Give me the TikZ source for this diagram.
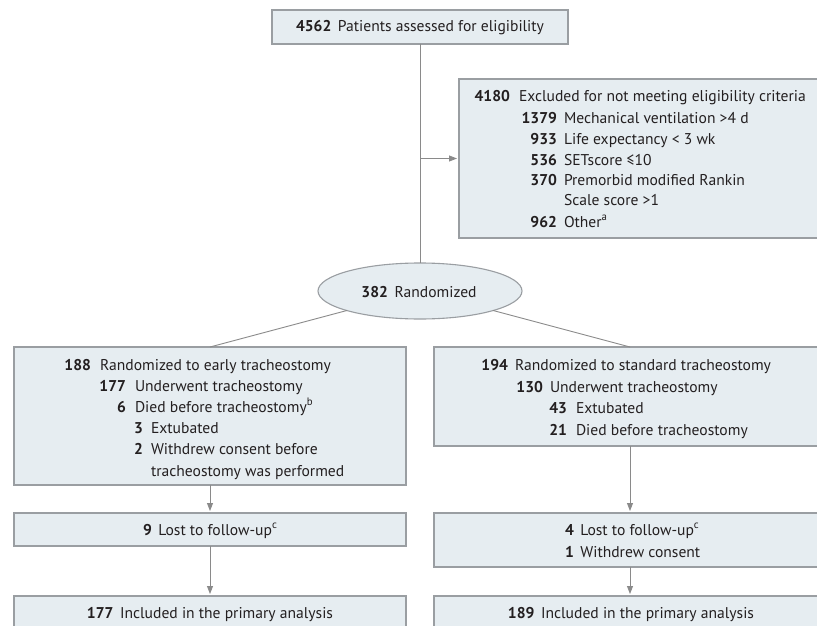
\documentclass[tikz,border=0pt]{standalone}
\usepackage{fontspec}
\setmainfont{PT Sans}
\usetikzlibrary{arrows.meta,shapes.geometric}
\definecolor{boxfill}{HTML}{E6EDF1}
\definecolor{boxline}{HTML}{9A9EA2}
\definecolor{connc}{HTML}{8A8A8A}
\definecolor{ink}{HTML}{231F20}
\newcommand\gp{\hspace{0.42em}}
\newcommand\supr[1]{\raisebox{0.42em}{\fontsize{10.8}{12}\selectfont #1}}
\newcommand\flrow[6]{%
  \node[numt, anchor=base east] (#1n) at (#2,#4+5) {#5};
  \node[bodyt, anchor=base west] (#1t) at (#3,#4+5) {#6};}
\tikzset{
  txt/.style={inner sep=0pt, outer sep=0pt, text=ink, font=\fontsize{15.6}{17}\selectfont},
  numt/.style={txt, font=\fontsize{15.6}{17}\selectfont\bfseries},
  bodyt/.style={txt},
  box/.style={rectangle, draw=boxline, line width=1.1pt, fill=boxfill, inner sep=0pt, outer sep=0pt},
  ellbox/.style={ellipse, draw=boxline, line width=1.1pt, fill=boxfill, inner sep=0pt, outer sep=0pt},
  conn/.style={draw=connc, line width=0.9pt},
  arr/.style={conn, -{Triangle[length=8pt,width=6pt]}, shorten >=2pt}
}
\begin{document}
\begin{tikzpicture}[x=1pt,y=-1pt]
\useasboundingbox (0,0) rectangle (817,626);
\fill[white] (0,0) rectangle (817,626);
\clip (0,0) rectangle (817,626);

% boxes
\node[box, minimum width=296, minimum height=34] (assess) at (420,27) {};
\node[box, minimum width=392, minimum height=159] (excl) at (655,158.5) {};
\node[ellbox, minimum width=204, minimum height=56] (ell) at (420,291) {};
\node[box, minimum width=392, minimum height=138] (lbox) at (210,416) {};
\node[box, minimum width=392, minimum height=99] (rbox) at (630,396.5) {};
\node[box, minimum width=392, minimum height=33] (llost) at (210,529.5) {};
\node[box, minimum width=392, minimum height=54] (rlost) at (630,540) {};
\node[box, minimum width=392, minimum height=44] (lincl) at (210,618) {};
\node[box, minimum width=392, minimum height=44] (rincl) at (630,618) {};

% connectors
\draw[conn] (assess.south) -- (ell.north);
\coordinate (br) at (assess.south |- excl.west);
\draw[arr] (br) -- (excl.west);
\draw[conn] (ell) -- (lbox.north);
\draw[conn] (ell) -- (rbox.north);
\draw[arr] (lbox.south) -- (llost.north);
\draw[arr] (rbox.south) -- (rlost.north);
\draw[arr] (llost.south) -- (lincl.north);
\draw[arr] (rlost.south) -- (rincl.north);

% texts
\node[txt, anchor=base] (assesst) at (420,32) {\textbf{4562}\gp Patients assessed for eligibility};

\flrow{ea}{510}{519}{97}{4180}{Excluded for not meeting eligibility criteria}
\flrow{eb}{557}{564}{118}{1379}{Mechanical ventilation >4 d}
\flrow{ec}{557}{564}{139}{933}{Life expectancy < 3 wk}
\flrow{ed}{557}{564}{160}{536}{SETscore ≤10}
\flrow{ee}{557}{564}{180}{370}{Premorbid modified Rankin}
\node[bodyt, anchor=base west] (eft) at (564,205) {Scale score >1};
\flrow{eg}{557}{564}{222}{962}{Other\supr{a}}

\node[txt, anchor=base] (ellt) at (419,297) {\textbf{382}\gp Randomized};

\flrow{la}{91}{100}{365}{188}{Randomized to early tracheostomy}
\flrow{lb}{126}{135}{386.2}{177}{Underwent tracheostomy}
\flrow{lc}{126}{135}{407.4}{6}{Died before tracheostomy\supr{b}}
\flrow{ld}{143}{151}{428.6}{3}{Extubated}
\flrow{le}{143}{151}{449.8}{2}{Withdrew consent before}
\node[bodyt, anchor=base west] (lft) at (151,476) {tracheostomy was performed};

\flrow{ra}{508}{515}{365}{194}{Randomized to standard tracheostomy}
\flrow{rb}{543}{550}{387}{130}{Underwent tracheostomy}
\flrow{rc}{567}{576}{408}{43}{Extubated}
\flrow{rd}{567}{576}{430}{21}{Died before tracheostomy}

\node[txt, anchor=base] (llostt) at (210,535) {\textbf{9}\gp Lost to follow-up\supr{c}};
\node[txt, anchor=base west] (rlostt1) at (565,535) {\textbf{4}\gp Lost to follow-up\supr{c}};
\node[txt, anchor=base west] (rlostt2) at (565,557) {\textbf{1}\gp Withdrew consent};

\node[txt, anchor=base] (linclt) at (210,618) {\textbf{177}\gp Included in the primary analysis};
\node[txt, anchor=base] (rinclt) at (631,618) {\textbf{189}\gp Included in the primary analysis};
\end{tikzpicture}
\end{document}
